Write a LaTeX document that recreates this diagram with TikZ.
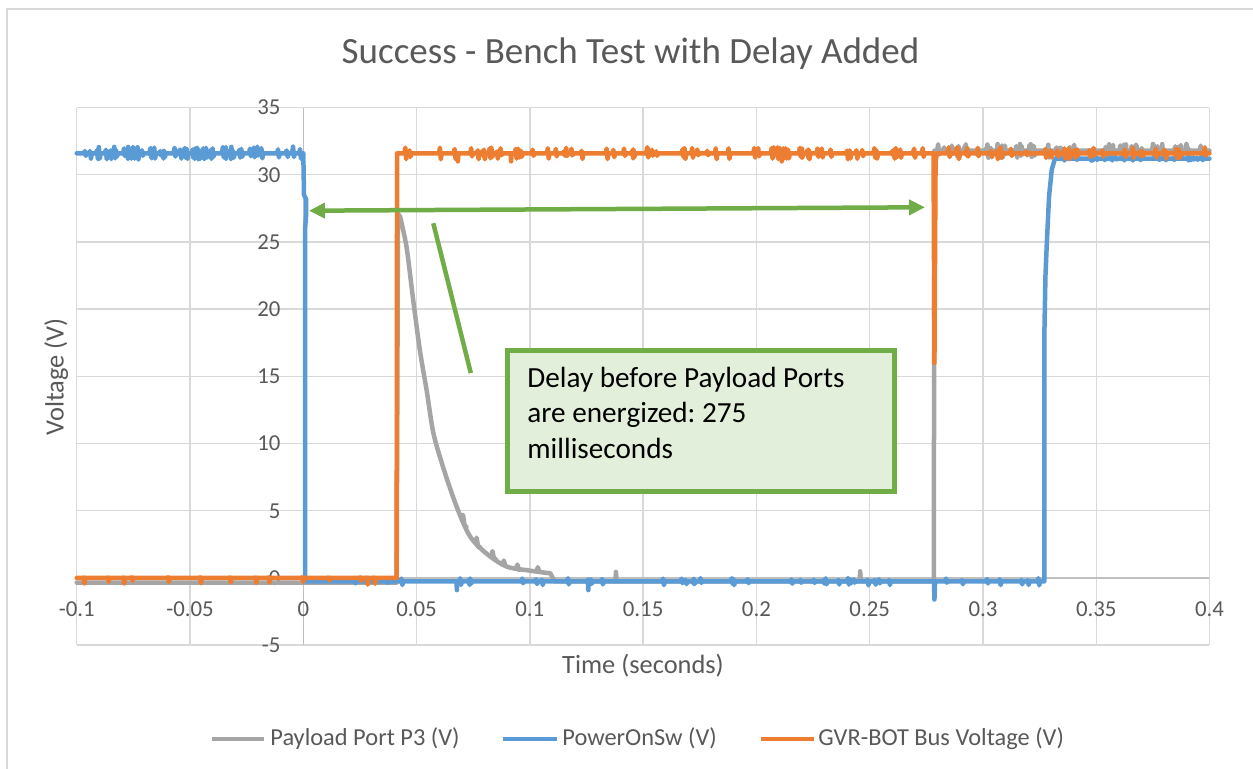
\documentclass[tikz,border=0pt]{standalone}
\usepackage{fontspec}
\setmainfont{Carlito}
\usetikzlibrary{arrows.meta}
\frenchspacing
\definecolor{sblue}{HTML}{5B9BD5}
\definecolor{sorange}{HTML}{ED7D31}
\definecolor{sgray}{HTML}{A5A5A5}
\definecolor{sgreen}{HTML}{70AD47}
\definecolor{sfill}{HTML}{E2EFDA}
\definecolor{ctxt}{HTML}{595959}
\definecolor{cgrid}{HTML}{D9D9D9}
\definecolor{caxis}{HTML}{BFBFBF}
% noise spikes: #1 colour, #2 t0, #3 t1, #4 base, #5 count, #6 up, #7 down
\newcommand\noisy[7]{%
  \foreach \k in {1,...,#5}{%
    \pgfmathsetmacro\ts{(#2)+((#3)-(#2)-0.0015)*rnd}%
    \pgfmathsetmacro\au{(#6)*(0.3+0.7*rnd)}%
    \pgfmathsetmacro\ad{(#7)*(0.3+0.7*rnd)}%
    \draw[series,#1] (\ts,#4) -- ++(0.0004,\au) -- ++(0.0004,-\au-\ad) -- ++(0.0004,\ad);
  }}
\begin{document}
\begin{tikzpicture}[x=0.5pt,y=-0.5pt,
  series/.style={line width=2.25pt,line join=round,line cap=round},
  gridline/.style={cgrid,line width=0.7pt},
  axisline/.style={caxis,line width=0.8pt},
  ticklab/.style={text=ctxt,font=\fontsize{11.4}{13.5}\selectfont,inner sep=0pt},
  axtitle/.style={text=ctxt,font=\fontsize{13.2}{16}\selectfont,inner sep=0pt},
  legtext/.style={text=ctxt,font=\fontsize{12.2}{14.5}\selectfont,inner sep=0pt,anchor=base west},
  legline/.style={line width=2.25pt},
  callout/.style={sgreen,line width=2.25pt}]
\useasboundingbox (0,0) rectangle (1253,769);
\fill[white] (0,0) rectangle (1253,769);
% chart border
\draw[cgrid,line width=0.7pt] (7,769) -- (7,9) -- (1253,9);
% title
\node[anchor=base,text=ctxt,font=\fontsize{18.5}{22}\selectfont,inner sep=0pt] (title) at (630.5,64) {Success - Bench Test with Delay Added};

\begin{scope}[x=1132.7pt,y=6.72pt,xshift=151.65pt,yshift=-289pt]
  % grid
  \foreach \i in {-2,...,8} \draw[gridline] ({\i*0.05},-5) -- ({\i*0.05},35);
  \foreach \v in {-5,0,...,35} \draw[gridline] (-0.1,\v) -- (0.4,\v);
  % axes
  \draw[axisline] (-0.1,0) -- (0.4,0);
  \draw[axisline] (0,-5) -- (0,35);
  % x tick labels
  \foreach \i/\l in {-2/-0.1,-1/-0.05,0/0,1/0.05,2/0.1,3/0.15,4/0.2,5/0.25,6/0.3,7/0.35,8/0.4}
    \node[ticklab,anchor=base] (xl\i) at ({\i*0.05},-2.9) {\l};
  % y tick labels
  \foreach \v in {-5,0,5,10,15,20,25,30,35}
    \node[ticklab,anchor=east,xshift=-11.2pt] (yl\v) at (0,\v) {\v};

  \pgfmathsetseed{4711}
  % --- Payload Port P3 (gray)
  \draw[series,sgray] (-0.1,-0.35) -- (0.0412,-0.35) -- (0.0418,27.1)
    -- plot[smooth,tension=0.5] coordinates {(0.0427,26.9) (0.0456,24.6) (0.0485,20.7) (0.0515,16.9) (0.0545,13.9) (0.0574,10.8) (0.0618,8.2) (0.0677,5.3) (0.0736,3.1) (0.0810,1.8) (0.0898,0.85) (0.100,0.55) (0.109,0.35)}
    -- (0.111,-0.25) -- (0.1378,-0.25) -- (0.1380,0.45) -- (0.1383,-0.25)
    -- (0.2456,-0.25) -- (0.2458,0.5) -- (0.2461,-0.25)
    -- (0.2783,-0.25) -- (0.2786,31.8) -- (0.4,31.8);
  % jitter along the decay tail
  \draw[series,sgray] (0.0700,4.3) -- (0.0705,4.7) -- (0.0712,3.9) -- (0.0720,3.8);
  \draw[series,sgray] (0.0760,2.6) -- (0.0765,3.0) -- (0.0772,2.3) -- (0.0780,2.3);
  \draw[series,sgray] (0.0830,1.6) -- (0.0835,2.0) -- (0.0842,1.4) -- (0.0850,1.4);
  \draw[series,sgray] (0.0880,1.0) -- (0.0885,1.3) -- (0.0892,0.9);
  \draw[series,sgray] (0.0940,0.7) -- (0.0945,1.0) -- (0.0952,0.6);
  \draw[series,sgray] (0.1030,0.5) -- (0.1035,0.8) -- (0.1042,0.45);
  \noisy{sgray}{0.2795}{0.4}{31.8}{55}{0.5}{0.55}
  % --- PowerOnSw (blue)
  \draw[series,sblue] (-0.1,31.6) -- (0,31.6) -- (0.0003,28.5) -- (0.0012,28.2) -- (0.0012,26.9)
    -- (0.0008,26.0) -- (0.0008,-0.25) -- (0.0676,-0.25) -- (0.0678,-0.9) -- (0.0680,-0.25)
    -- (0.1256,-0.25) -- (0.1258,-0.9) -- (0.1260,-0.25)
    -- (0.2784,-0.25) -- (0.2786,-1.6) -- (0.2789,-0.25) -- (0.3271,-0.25) -- (0.3271,18)
    -- (0.3276,22.5) -- (0.3282,24.9) -- (0.3292,28.4) -- (0.3304,30.4) -- (0.3318,31.2) -- (0.4,31.2);
  \noisy{sblue}{-0.1}{0}{31.6}{60}{0.5}{0.45}
  \noisy{sblue}{0.002}{0.326}{-0.25}{45}{0.25}{0.3}
  \noisy{sblue}{0.333}{0.4}{31.2}{20}{0.12}{0.15}
  % --- GVR-BOT Bus Voltage (orange)
  \draw[series,sorange] (-0.1,0) -- (0.0412,0) -- (0.0414,31.6) -- (0.2782,31.6)
    -- (0.2786,16.0) -- (0.2791,31.0) -- (0.2797,31.6) -- (0.4,31.6);
  \noisy{sorange}{-0.1}{0.04}{0}{14}{0.05}{0.5}
  \noisy{sorange}{0.043}{0.278}{31.6}{75}{0.45}{0.45}
  \noisy{sorange}{0.28}{0.4}{31.6}{35}{0.45}{0.45}
  \draw[series,sorange] (0.0680,31.6) -- (0.0682,31.0) -- (0.0685,31.6);
  \draw[series,sorange] (0.0915,31.6) -- (0.0917,31.0) -- (0.0920,31.6);
  \draw[series,sorange] (0.2110,31.6) -- (0.2112,31.0) -- (0.2115,31.6);
\end{scope}

% axis titles
\node[axtitle,anchor=base] (xtitle) at (643,674) {Time (seconds)};
\node[axtitle,anchor=base,rotate=90] (ytitle) at (63.5,377) {Voltage (V)};

% annotation arrow and callout
\coordinate (aL) at (309,210.7);
\coordinate (aR) at (925,207.3);
\draw[callout,{Triangle[length=8pt,width=7.5pt]}-{Triangle[length=8pt,width=7.5pt]}] (aL) -- (aR);
\coordinate (cA) at (433.3,223.3);
\coordinate (cB) at (470.8,373);
\draw[callout] (cA) -- (cB);
\node[draw=sgreen,fill=sfill,line width=2.5pt,anchor=north west,minimum width=193.5pt,minimum height=70.5pt,inner sep=0pt] (box) at (504.5,348.5) {};
\node[anchor=base west,text width=185pt,align=flush left,inner sep=0pt,text=black,font=\fontsize{14.6}{17.65}\selectfont] (boxtext) at (527,387.7) {Delay before Payload Ports\\are energized: 275\\milliseconds};

% legend
\draw[legline,sgray] (212,739) -- (264,739);
\node[legtext] (leg1) at (270,745) {Payload Port P3 (V)};
\draw[legline,sblue] (503,739) -- (557,739);
\node[legtext] (leg2) at (562,745) {PowerOnSw (V)};
\draw[legline,sorange] (761,739) -- (814,739);
\node[legtext] (leg3) at (818,745) {GVR-BOT Bus Voltage (V)};
\end{tikzpicture}
\end{document}
